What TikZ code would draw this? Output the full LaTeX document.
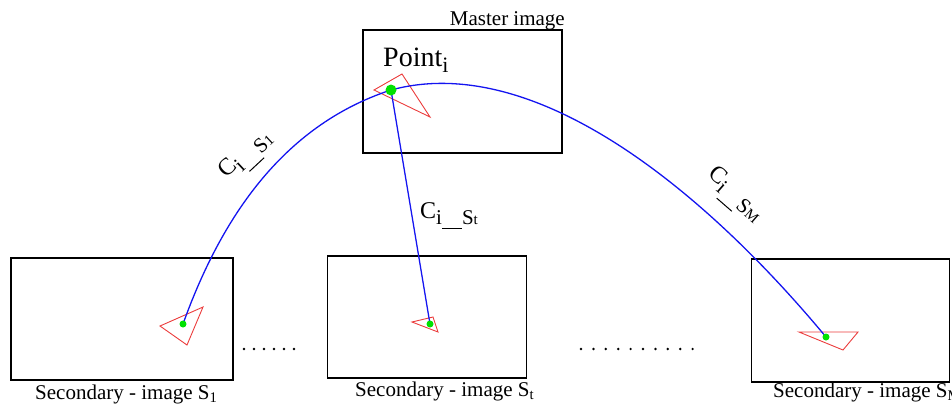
\documentclass[tikz,border=0pt]{standalone}
\usepackage{fontspec}
\setmainfont{Liberation Serif}
\definecolor{rayblue}{RGB}{20,20,240}
\definecolor{trired}{RGB}{235,60,60}
\definecolor{spotgreen}{RGB}{0,225,0}
\newcommand{\clab}[1]{{\fontsize{24}{24}\selectfont C}\raisebox{-6pt}{\fontsize{21}{21}\selectfont i\raisebox{-5pt}{\rule{20pt}{1pt}}S\fontsize{15}{15}\selectfont #1}}
\begin{document}
\begin{tikzpicture}[x=1pt,y=-1pt,
  box/.style={draw=black,line width=1.7pt,inner sep=0pt},
  ray/.style={draw=rayblue,line width=1.3pt},
  tri/.style={draw=trired,line width=0.9pt},
  spot/.style={circle,fill=spotgreen,inner sep=0pt},
  lab/.style={font=\fontsize{21}{21}\selectfont,inner sep=0pt},
  clabel/.style={inner sep=0pt},
  dotmark/.style={circle,fill=black,inner sep=0pt,minimum size=2.7pt}]
\useasboundingbox (0,0) rectangle (952,405);
% boxes
\node[box,minimum width=199pt,minimum height=123pt] (master) at (462.5,91.5) {};
\node[box,minimum width=222pt,minimum height=122pt] (sec1) at (122,319) {};
\node[box,minimum width=199pt,minimum height=122pt] (sect) at (427,317) {};
\node[box,minimum width=198pt,minimum height=123pt] (secm) at (850.5,320.5) {};
% box labels
\node[lab,anchor=base east] (mlab) at (565,25) {Master image};
\node[lab,anchor=base west] (l1) at (35,399) {Secondary - image S\textsubscript{1}};
\node[lab,anchor=base west] (lt) at (355,396) {Secondary - image S\textsubscript{t}};
\node[lab,anchor=base west] (lm) at (773,397) {Secondary - image S\textsubscript{M}};
\node[inner sep=0pt,anchor=base west,font=\fontsize{28}{28}\selectfont] (pt) at (383,66) {Point\raisebox{-6pt}{\fontsize{22}{22}\selectfont i}};
% triangles
\draw[tri] (374,90) -- (402,74) -- (430,117) -- cycle;
\draw[tri] (160,326) -- (203,307) -- (187,345) -- cycle;
\draw[tri] (412,322) -- (433,317) -- (438,332) -- cycle;
\draw[tri] (799,332) -- (858,332) -- (843,350) -- cycle;
% points
\coordinate (p0) at (391,90);
\coordinate (p1) at (183,324);
\coordinate (pt2) at (430,324);
\coordinate (pm) at (826,337);
% rays
\draw[ray] (p0) .. controls (281,126) and (220,221) .. (p1);
\draw[ray] (p0) .. controls (531,52) and (698,183) .. (pm);
\draw[ray] (p0) -- (pt2);
\node[spot,minimum size=11pt] (s0) at (p0) {};
\node[spot,minimum size=7pt] (s1) at (p1) {};
\node[spot,minimum size=7pt] (st) at (pt2) {};
\node[spot,minimum size=7pt] (sm) at (pm) {};
% ray labels
\node[clabel,rotate=43] (c1) at (247,156) {\clab{1}};
\node[clabel,anchor=base west] (ct) at (420,218) {\clab{t}};
\node[clabel,rotate=-41] (cm) at (734,196) {\clab{M}};
% ellipsis dots
\foreach \i in {0,...,5} \node[dotmark] (da\i) at (244+10*\i,349) {};
\foreach \i in {0,...,9} \node[dotmark] (db\i) at (581+12.4*\i,349) {};
\end{tikzpicture}
\end{document}
